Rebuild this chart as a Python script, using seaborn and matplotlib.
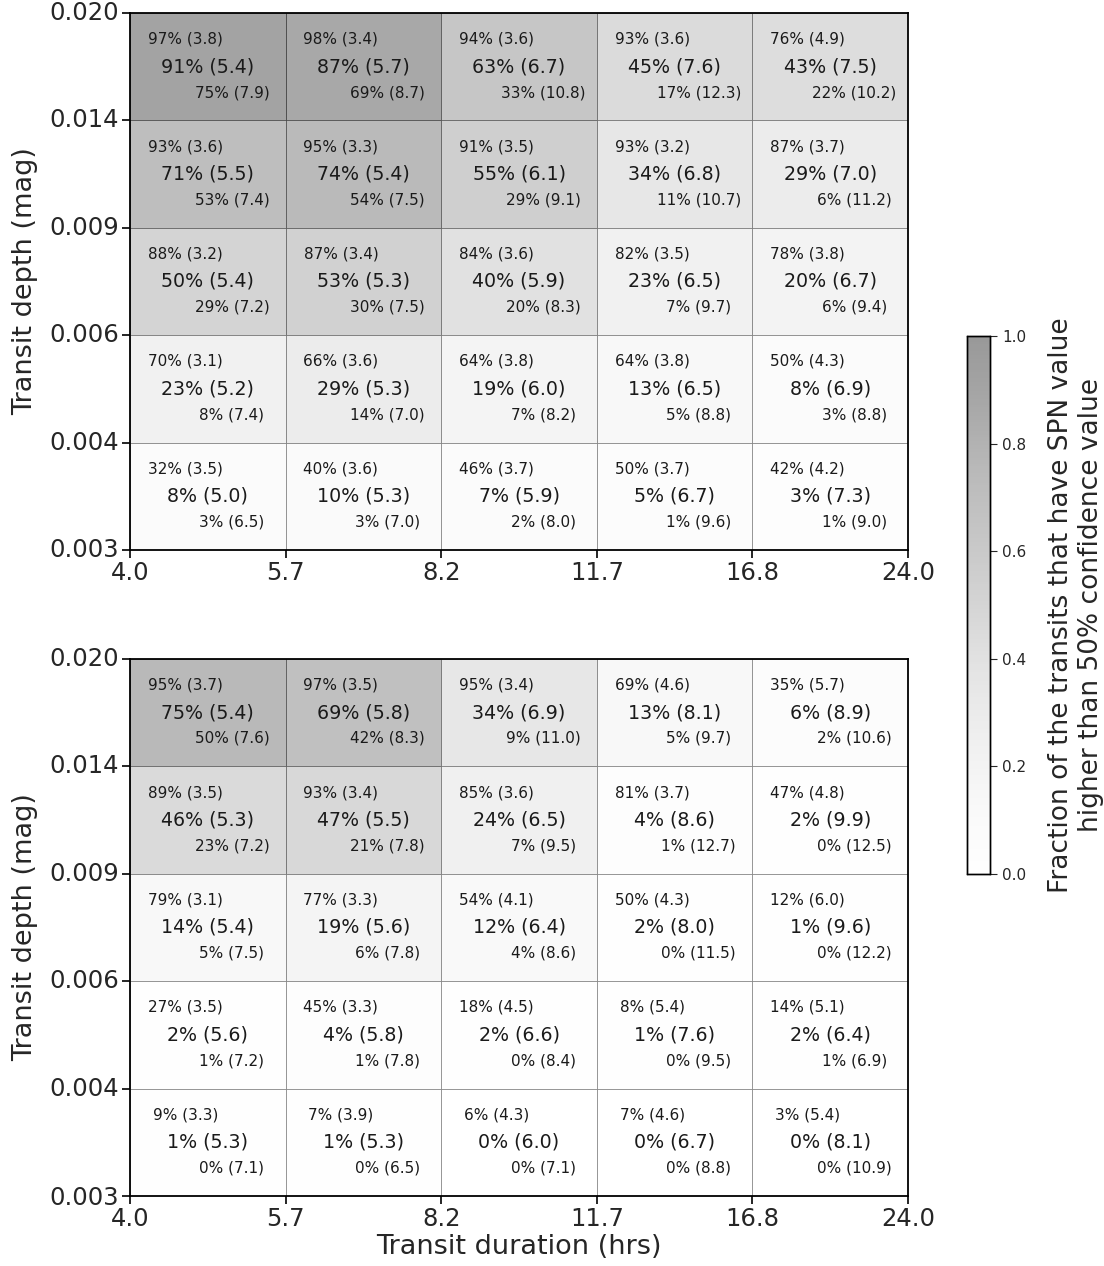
import numpy as np
import pandas as pd
import matplotlib
matplotlib.use("Agg")
import matplotlib.pyplot as plt
import seaborn as sns

# Bin edges
duration_edges = ["4.0", "5.7", "8.2", "11.7", "16.8", "24.0"]
depth_edges = ["0.020", "0.014", "0.009", "0.006", "0.004", "0.003"]  # top to bottom

# Upper panel: percentage of transits (mean SPN in parentheses), rows top -> bottom
upper_hi_pct = [[97, 98, 94, 93, 76], [93, 95, 91, 93, 87], [88, 87, 84, 82, 78],
                [70, 66, 64, 64, 50], [32, 40, 46, 50, 42]]
upper_hi_val = [[3.8, 3.4, 3.6, 3.6, 4.9], [3.6, 3.3, 3.5, 3.2, 3.7], [3.2, 3.4, 3.6, 3.5, 3.8],
                [3.1, 3.6, 3.8, 3.8, 4.3], [3.5, 3.6, 3.7, 3.7, 4.2]]
upper_mid_pct = [[91, 87, 63, 45, 43], [71, 74, 55, 34, 29], [50, 53, 40, 23, 20],
                 [23, 29, 19, 13, 8], [8, 10, 7, 5, 3]]
upper_mid_val = [[5.4, 5.7, 6.7, 7.6, 7.5], [5.5, 5.4, 6.1, 6.8, 7.0], [5.4, 5.3, 5.9, 6.5, 6.7],
                 [5.2, 5.3, 6.0, 6.5, 6.9], [5.0, 5.3, 5.9, 6.7, 7.3]]
upper_lo_pct = [[75, 69, 33, 17, 22], [53, 54, 29, 11, 6], [29, 30, 20, 7, 6],
                [8, 14, 7, 5, 3], [3, 3, 2, 1, 1]]
upper_lo_val = [[7.9, 8.7, 10.8, 12.3, 10.2], [7.4, 7.5, 9.1, 10.7, 11.2], [7.2, 7.5, 8.3, 9.7, 9.4],
                [7.4, 7.0, 8.2, 8.8, 8.8], [6.5, 7.0, 8.0, 9.6, 9.0]]

# Lower panel
lower_hi_pct = [[95, 97, 95, 69, 35], [89, 93, 85, 81, 47], [79, 77, 54, 50, 12],
                [27, 45, 18, 8, 14], [9, 7, 6, 7, 3]]
lower_hi_val = [[3.7, 3.5, 3.4, 4.6, 5.7], [3.5, 3.4, 3.6, 3.7, 4.8], [3.1, 3.3, 4.1, 4.3, 6.0],
                [3.5, 3.3, 4.5, 5.4, 5.1], [3.3, 3.9, 4.3, 4.6, 5.4]]
lower_mid_pct = [[75, 69, 34, 13, 6], [46, 47, 24, 4, 2], [14, 19, 12, 2, 1],
                 [2, 4, 2, 1, 2], [1, 1, 0, 0, 0]]
lower_mid_val = [[5.4, 5.8, 6.9, 8.1, 8.9], [5.3, 5.5, 6.5, 8.6, 9.9], [5.4, 5.6, 6.4, 8.0, 9.6],
                 [5.6, 5.8, 6.6, 7.6, 6.4], [5.3, 5.3, 6.0, 6.7, 8.1]]
lower_lo_pct = [[50, 42, 9, 5, 2], [23, 21, 7, 1, 0], [5, 6, 4, 0, 0],
                [1, 1, 0, 0, 1], [0, 0, 0, 0, 0]]
lower_lo_val = [[7.6, 8.3, 11.0, 9.7, 10.6], [7.2, 7.8, 9.5, 12.7, 12.5], [7.5, 7.8, 8.6, 11.5, 12.2],
                [7.2, 7.8, 8.4, 9.5, 6.9], [7.1, 6.5, 7.1, 8.8, 10.9]]

fig = plt.figure(figsize=(11.04, 12.66), dpi=100)
sns.set_style("white")
plt.rcParams["font.family"] = ["DejaVu Sans"]

ax_top = fig.add_axes([0.1178, 0.5656, 0.7047, 0.4241])
ax_bot = fig.add_axes([0.1178, 0.0553, 0.7047, 0.4242])
cax = fig.add_axes([0.876, 0.3096, 0.0208, 0.425])


def draw_panel(ax, hi_p, hi_v, mid_p, mid_v, lo_p, lo_v, with_cbar, xlabel):
    frac = pd.DataFrame(np.array(mid_p) / 100.0)
    sns.heatmap(frac, ax=ax, cmap="Greys", vmin=0, vmax=1, alpha=0.4,
                linewidths=0.7, linecolor="#444444",
                cbar=with_cbar, cbar_ax=cax if with_cbar else None)
    for i in range(5):
        for j in range(5):
            ax.text(j + 0.5 - 0.145, i + 0.5 - 0.255, f"{hi_p[i][j]}% ({hi_v[i][j]:.1f})",
                    ha="center", va="center", fontsize=11, color="#1a1a1a")
            ax.text(j + 0.5, i + 0.5, f"{mid_p[i][j]}% ({mid_v[i][j]:.1f})",
                    ha="center", va="center", fontsize=13.7, color="#1a1a1a")
            ax.text(j + 0.5 + 0.155, i + 0.5 + 0.24, f"{lo_p[i][j]}% ({lo_v[i][j]:.1f})",
                    ha="center", va="center", fontsize=11, color="#1a1a1a")
    ax.set_xticks(np.arange(6))
    ax.set_xticklabels(duration_edges, rotation=0, fontsize=17.5)
    ax.set_yticks(np.arange(6))
    ax.set_yticklabels(depth_edges, rotation=0, fontsize=17.5)
    ax.tick_params(axis="both", which="major", length=6, width=1.2, color="black",
                   direction="out", bottom=True, left=True, pad=2)
    for sp in ax.spines.values():
        sp.set_visible(True)
        sp.set_color("black")
        sp.set_linewidth(1.3)
    ax.set_ylabel("Transit depth (mag)", fontsize=19.5, labelpad=8)
    ax.set_xlabel(xlabel, fontsize=19.5, labelpad=2)


draw_panel(ax_top, upper_hi_pct, upper_hi_val, upper_mid_pct, upper_mid_val,
           upper_lo_pct, upper_lo_val, True, "")
draw_panel(ax_bot, lower_hi_pct, lower_hi_val, lower_mid_pct, lower_mid_val,
           lower_lo_pct, lower_lo_val, False, "Transit duration (hrs)")

cax.set_yticks([0.0, 0.2, 0.4, 0.6, 0.8, 1.0])
cax.tick_params(labelsize=11, length=5, direction="out")
cax.set_ylabel("Fraction of the transits that have SPN value\nhigher than 50% confidence value",
               fontsize=19, labelpad=16)
for sp in cax.spines.values():
    sp.set_visible(True)
    sp.set_color("black")
    sp.set_linewidth(1.0)

fig.savefig("out.png", dpi=100)
